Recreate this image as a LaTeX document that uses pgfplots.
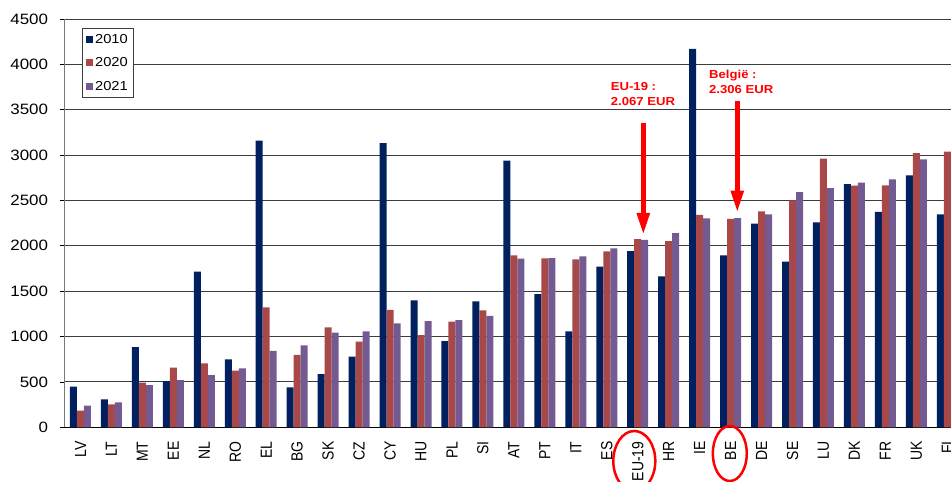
\documentclass[border=0pt]{standalone}
\usepackage{fontspec}
\setmainfont[FakeStretch=1.13]{Liberation Sans}
\newfontfamily\xfont{Liberation Sans}
\usepackage{graphicx}
\usepackage{pgfplots}
\pgfplotsset{compat=1.18}
\usetikzlibrary{arrows.meta}

\definecolor{c2010}{RGB}{0,32,96}
\definecolor{c2020}{RGB}{168,72,72}
\definecolor{c2021}{RGB}{115,90,145}
\definecolor{gridc}{RGB}{60,60,60}
\definecolor{axisc}{RGB}{120,120,120}

% country codes, slightly widened after rotation
\newcommand\sx[1]{\scalebox{1}[1.15]{#1}}

\begin{document}
\begin{tikzpicture}
\begin{axis}[
  at={(0pt,0pt)}, anchor=south west,
  scale only axis, width=886pt, height=408.3pt,
  xmin=-0.5, xmax=28.12, ymin=0, ymax=4500,
  ybar=0pt, bar width=7pt,
  axis x line*=bottom, axis y line*=left,
  x axis line style={black, line width=1pt, -},
  y axis line style={axisc, line width=1pt, -},
  ytick={0,500,...,4500},
  ymajorgrids, major grid style={gridc, line width=0.9pt},
  xtick={0,...,28},
  xticklabels={\sx{LV},\sx{LT},\sx{MT},\sx{EE},\sx{NL},\sx{RO},\sx{EL},\sx{BG},\sx{SK},\sx{CZ},\sx{CY},\sx{HU},\sx{PL},\sx{SI},\sx{AT},\sx{PT},\sx{IT},\sx{ES},\sx{EU-19},\sx{HR},\sx{IE},\sx{BE},\sx{DE},\sx{SE},\sx{LU},\sx{DK},\sx{FR},\sx{UK},\sx{FI}},
  x tick style={draw=none},
  y tick style={black, line width=0.8pt},
  tick align=outside, major tick length=5pt,
  xticklabel shift=9pt,
  xticklabel style={rotate=90, anchor=east, inner sep=0pt,
    font=\xfont\fontsize{14}{14}\selectfont},
  yticklabel style={anchor=east, inner sep=0pt, xshift=-11.7pt,
    font=\fontsize{15}{15}\selectfont},
  /pgf/number format/.cd, 1000 sep={}, assume math mode=true, /pgfplots/.cd,
  legend style={at={(0.01885,0.9787)}, anchor=north west, draw=gridc,
    line width=0.8pt, font=\fontsize{13}{13}\selectfont,
    inner xsep=4pt, inner ysep=4pt, row sep=9pt},
  legend cell align=left,
  legend image code/.code={\fill[#1] (0pt,-3.5pt) rectangle (7pt,3.5pt);},
]
% 2010
\addplot[fill=c2010, draw=none] coordinates {
 (0,447) (1,309) (2,885) (3,510) (4,1715) (5,749) (6,3159) (7,441)
 (8,587) (9,778) (10,3133) (11,1400) (12,951) (13,1389) (14,2938)
 (15,1469) (16,1058) (17,1770) (18,1943) (19,1664) (20,4172) (21,1895)
 (22,2244) (23,1825) (24,2259) (25,2681) (26,2373) (27,2777) (28,2347)};
% 2020
\addplot[fill=c2020, draw=none] coordinates {
 (0,183) (1,253) (2,492) (3,657) (4,705) (5,624) (6,1322) (7,797)
 (8,1102) (9,943) (10,1293) (11,1017) (12,1164) (13,1289) (14,1895)
 (15,1862) (16,1851) (17,1940) (18,2075) (19,2053) (20,2340) (21,2296)
 (22,2380) (23,2502) (24,2960) (25,2663) (26,2667) (27,3023) (28,3037)};
% 2021
\addplot[fill=c2021, draw=none] coordinates {
 (0,238) (1,276) (2,466) (3,521) (4,576) (5,650) (6,841) (7,904)
 (8,1043) (9,1058) (10,1146) (11,1171) (12,1182) (13,1227) (14,1860)
 (15,1865) (16,1884) (17,1972) (18,2067) (19,2141) (20,2303) (21,2306)
 (22,2347) (23,2593) (24,2637) (25,2696) (26,2733) (27,2953)};
\legend{2010,2020,2021}
\end{axis}

% highlighted categories and their callouts
\draw[red, line width=2.5pt] (569.3pt,-33.7pt) ellipse [x radius=21pt, y radius=30pt];
\draw[red, line width=2.5pt] (664.8pt,-26.2pt) ellipse [x radius=17pt, y radius=27.5pt];
\draw[red, line width=5pt, -{Triangle[width=12pt,length=22pt]}] (578.3pt,304.3pt) -- (578.3pt,192.3pt);
\draw[red, line width=5pt, -{Triangle[width=12pt,length=22pt]}] (672.3pt,326.6pt) -- (672.3pt,214.6pt);
\begin{scope}[every node/.style={anchor=base west, inner sep=0pt, text=red,
    font=\bfseries\fontsize{11.6}{12}\selectfont}]
\node at (545.7pt,336.6pt) {EU-19 :};
\node at (545.7pt,321.3pt) {2.067 EUR};
\node at (644pt,349pt) {België :};
\node at (644pt,334pt) {2.306 EUR};
\end{scope}

\pgfresetboundingbox
\path[use as bounding box] (-65pt,-54.7pt) rectangle (886pt,427.3pt);
\end{tikzpicture}
\end{document}
